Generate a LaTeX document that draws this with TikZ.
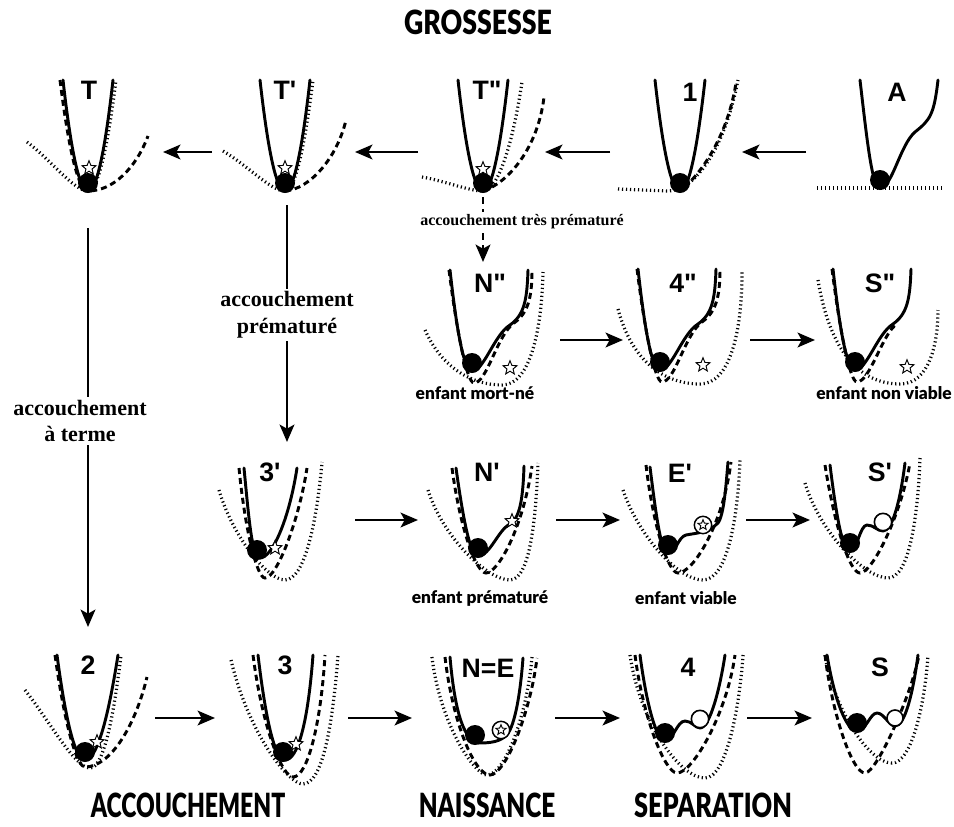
\documentclass[tikz,border=0pt]{standalone}
\usepackage{fontspec}
\usepackage{graphicx}
\setmainfont{Liberation Serif}
\setsansfont{Liberation Sans}
\newfontfamily\labfont{Liberation Sans}[Ligatures=TeXOff]
\newfontfamily\heavyfont{Lato Black}
\usetikzlibrary{shapes.geometric,arrows.meta}

\tikzset{
  wsolid/.style={line width=2.2pt, line join=round, line cap=round},
  wdash/.style={line width=2.2pt, dash pattern=on 4.5pt off 3pt},
  wdot/.style={line width=2.4pt, dash pattern=on 0.9pt off 2.1pt},
  arr/.style={line width=2pt, -{Stealth[length=13pt,width=11pt,inset=3pt]}},
  darr/.style={arr, dash pattern=on 5pt off 4pt},
  plabel/.style={font=\labfont\bfseries\fontsize{20}{20}\selectfont, inner sep=0pt},
  heading/.style={font=\heavyfont\fontsize{25}{25}\selectfont, inner sep=0pt},
  note/.style={font=\rmfamily\bfseries\fontsize{16.5}{20}\selectfont, align=center, fill=white, inner sep=2pt},
  smallnote/.style={font=\rmfamily\bfseries\fontsize{12}{12}\selectfont, fill=white, inner sep=2pt},
  child/.style={font=\heavyfont\fontsize{13}{13}\selectfont, inner sep=0pt},
  starmark/.style={star, star points=5, star point ratio=2.3, draw, fill=white,
                   line width=0.7pt, minimum size=11pt, inner sep=0pt},
  ringstar/.style={circle, draw, fill=white, line width=1.1pt, minimum size=13pt, inner sep=0pt},
  hole/.style={circle, draw, fill=white, line width=1.2pt, minimum size=13pt, inner sep=0pt},
}

\begin{document}
\begin{tikzpicture}[x=0.75pt, y=-0.75pt]
\useasboundingbox (0,0) rectangle (954,826);

% ---------------- headings ----------------
\node[heading] (hG) at (478,22) {\scalebox{0.8}[1]{GROSSESSE}};
\node[heading] (hA) at (188,805) {\scalebox{0.69}[1]{ACCOUCHEMENT}};
\node[heading] (hN) at (487,805) {\scalebox{0.73}[1]{NAISSANCE}};
\node[heading] (hS) at (713,805) {\scalebox{0.76}[1]{SEPARATION}};

% ================= row 1 : pregnancy =================
% T
\begin{scope}[shift={(88,183)}]
\draw[wdot] (-61,-41) .. controls (-38,-24) and (-14,8) .. (0,8) .. controls (9.3,8) and (18.7,-29) .. (28,-103);
\draw[wdash] (-28,-103) .. controls (-18.7,-29) and (-9.3,8) .. (0,8) .. controls (25,8) and (48,-15) .. (60,-47);
\draw[wsolid] (-25,-103) .. controls (-16.7,-29) and (-8.3,8) .. (0,8) .. controls (8.3,8) and (16.7,-29) .. (25,-103);
\fill (0,0) circle[radius=7.5pt];
\node[starmark] (sT) at (1,-15) {};
\end{scope}
% T'
\begin{scope}[shift={(285,183)}]
\draw[wdot] (-62,-32) .. controls (-38,-18) and (-14,8) .. (0,8) .. controls (9.3,8) and (18.7,-29) .. (28,-103);
\draw[wdash] (0,8) .. controls (25,6) and (52,-25) .. (61,-63);
\draw[wsolid] (-25,-103) .. controls (-16.7,-29) and (-8.3,8) .. (0,8) .. controls (8.3,8) and (16.7,-29) .. (25,-103);
\fill (0,0) circle[radius=7.5pt];
\node[starmark] (sTp) at (0,-15) {};
\end{scope}
% T''
\begin{scope}[shift={(483,183)}]
\draw[wdot] (-61,-6) .. controls (-38,-2) and (-14,8) .. (0,8) .. controls (15,8) and (30,-40) .. (39,-101);
\draw[wdash] (0,8) .. controls (25,0) and (55,-35) .. (61,-86);
\draw[wsolid] (-25,-103) .. controls (-16.7,-29) and (-8.3,8) .. (0,8) .. controls (8.3,8) and (16.7,-29) .. (25,-103);
\fill (0,0) circle[radius=7.5pt];
\node[starmark] (sTpp) at (0,-14) {};
\end{scope}
% 1
\begin{scope}[shift={(680,183)}]
\draw[wdot] (-62,6) -- (-12,8) .. controls (15,8) and (45,-35) .. (58,-103);
\draw[wdash] (5,4) .. controls (25,-15) and (48,-50) .. (56,-100);
\draw[wsolid] (-25,-103) .. controls (-16.7,-29) and (-8.3,8) .. (0,8) .. controls (8.3,8) and (16.7,-29) .. (25,-103);
\fill (0,0) circle[radius=7.5pt];
\end{scope}
% A
\begin{scope}[shift={(880,180)}]
\draw[wdot] (-63,8) -- (62,8);
\draw[wsolid] (-20,-100) .. controls (-13,-40) and (-8,8) .. (0,8) .. controls (12,8) and (20,-35) .. (35,-48) .. controls (50,-60) and (54,-65) .. (58,-100);
\fill (0,0) circle[radius=7.5pt];
\end{scope}

\node[plabel] (lT)   at (89,90)  {T};
\node[plabel] (lTp)  at (285,90) {T'};
\node[plabel] (lTpp) at (487,90) {T"};
\node[plabel] (l1)   at (690,92) {1};
\node[plabel] (lA)   at (897,92) {A};

% ================= row 2 : very premature birth =================
% N''
\begin{scope}[shift={(472,363)}]
\draw[wdot] (-47,-33) .. controls (-30,5) and (0,22) .. (30,22) .. controls (60,22) and (70,-40) .. (71,-91);
\draw[wdash] (-23,-93) .. controls (-15,-30) and (-5,20) .. (2,20) .. controls (15,20) and (25,-28) .. (42,-40) .. controls (56,-50) and (60,-65) .. (60,-93);
\draw[wsolid] (-22,-93) .. controls (-15,-30) and (-8,8) .. (0,8) .. controls (12,8) and (22,-28) .. (38,-38) .. controls (52,-48) and (55,-62) .. (56,-93);
\fill (0,0) circle[radius=7.5pt];
\node[starmark] (sNpp) at (38,5) {};
\end{scope}
% 4''
\begin{scope}[shift={(660,362)}]
\draw[wdot] (-42,-53) .. controls (-28,0) and (5,22) .. (40,22) .. controls (70,22) and (82,-30) .. (82,-90);
\draw[wdash] (-23,-93) .. controls (-15,-30) and (-5,20) .. (2,20) .. controls (15,20) and (25,-28) .. (42,-40) .. controls (56,-50) and (60,-65) .. (60,-93);
\draw[wsolid] (-22,-93) .. controls (-15,-30) and (-8,8) .. (0,8) .. controls (12,8) and (22,-28) .. (38,-38) .. controls (52,-48) and (55,-62) .. (56,-93);
\fill (0,0) circle[radius=7.5pt];
\node[starmark] (s4pp) at (43,3) {};
\end{scope}
% S''
\begin{scope}[shift={(855,362)}]
\draw[wdot] (-37,-82) .. controls (-25,-10) and (5,22) .. (45,22) .. controls (75,22) and (83,-20) .. (83,-52);
\draw[wdash] (-23,-93) .. controls (-15,-30) and (-5,20) .. (2,20) .. controls (15,20) and (28,-30) .. (42,-38);
\draw[wsolid] (-22,-93) .. controls (-15,-30) and (-8,8) .. (0,8) .. controls (12,8) and (22,-28) .. (38,-38) .. controls (52,-48) and (55,-62) .. (56,-93);
\fill (0,0) circle[radius=7.5pt];
\node[starmark] (sSpp) at (52,5) {};
\end{scope}

\node[plabel] (lNpp) at (490,283) {N"};
\node[plabel] (l4pp) at (683,283) {4"};
\node[plabel] (lSpp) at (880,283) {S"};
\node[child] (cMort) at (475,393) {enfant mort-né};
\node[child] (cNonv) at (884,393) {enfant non viable};

% ================= row 3 : premature birth =================
% 3'
\begin{scope}[shift={(257,550)}]
\draw[wdot] (-38,-60) .. controls (-25,-15) and (10,30) .. (28,30) .. controls (48,30) and (60,-30) .. (65,-88);
\draw[wdash] (-18,-82) .. controls (-12,-20) and (0,28) .. (8,28) .. controls (20,28) and (42,-30) .. (50,-82);
\draw[wsolid] (-13,-82) .. controls (-8,-30) and (-5,8) .. (3,8) .. controls (15,8) and (32,-30) .. (40,-82);
\fill (0,0) circle[radius=7.5pt];
\node[starmark] (s3p) at (18,-2) {};
\end{scope}
% N'
\begin{scope}[shift={(478,548)}]
\draw[wdot] (-50,-58) .. controls (-35,-10) and (10,32) .. (32,32) .. controls (52,32) and (58,-30) .. (60,-85);
\draw[wdash] (-26,-80) .. controls (-18,-20) and (-2,25) .. (8,25) .. controls (20,25) and (45,-20) .. (54,-82);
\draw[wsolid] (-22,-80) .. controls (-15,-30) and (-8,8) .. (0,8) .. controls (12,8) and (20,-18) .. (32,-24) .. controls (42,-30) and (45,-50) .. (46,-82);
\fill (0,0) circle[radius=7.5pt];
\node[starmark] (sNp) at (34,-27) {};
\end{scope}
% E'
\begin{scope}[shift={(668,545)}]
\draw[wdot] (-45,-55) .. controls (-30,-10) and (10,35) .. (35,35) .. controls (60,35) and (70,-30) .. (72,-85);
\draw[wdash] (-22,-80) .. controls (-15,-20) and (0,28) .. (10,28) .. controls (25,28) and (55,-20) .. (63,-83);
\draw[wsolid] (-18,-78) .. controls (-12,-30) and (-7,8) .. (0,8) .. controls (8,8) and (10,-8) .. (18,-10) .. controls (28,-12) and (40,-12) .. (50,-22) .. controls (56,-30) and (58,-60) .. (60,-83);
\fill (0,0) circle[radius=7.5pt];
\node[ringstar] (rEp) at (35,-20) {};
\node[starmark, minimum size=8pt] (sEp) at (35,-20) {};
\end{scope}
% S'
\begin{scope}[shift={(850,543)}]
\draw[wdot] (-45,-60) .. controls (-30,-10) and (15,35) .. (38,35) .. controls (60,35) and (68,-30) .. (70,-85);
\draw[wdash] (-25,-78) .. controls (-15,-15) and (0,30) .. (10,30) .. controls (22,30) and (50,-25) .. (60,-80);
\draw[wsolid] (-20,-78) .. controls (-14,-30) and (-8,8) .. (0,8) .. controls (7,8) and (10,-18) .. (17,-18) .. controls (24,-18) and (27,-12) .. (33,-12) .. controls (42,-12) and (50,-40) .. (55,-80);
\fill (0,0) circle[radius=7.5pt];
\node[hole] (oSp) at (33,-21) {};
\end{scope}

\node[plabel] (l3p) at (270,472) {3'};
\node[plabel] (lNp) at (487,472) {N'};
\node[plabel] (lEp) at (680,473) {E'};
\node[plabel] (lSp) at (880,472) {S'};
\node[child] (cPrem) at (480,598) {enfant prématuré};
\node[child] (cViab) at (686,598) {enfant viable};

% ================= row 4 : term birth =================
% 2
\begin{scope}[shift={(85,752)}]
\draw[wdot] (-60,-62) .. controls (-35,-30) and (-10,16) .. (5,16) .. controls (18,16) and (28,-30) .. (36,-97);
\draw[wdash] (-30,-97) .. controls (-20,-25) and (-8,15) .. (0,15) .. controls (25,15) and (50,-25) .. (62,-75);
\draw[wsolid] (-28,-97) .. controls (-18.7,-27) and (-9.3,8) .. (0,8) .. controls (11,8) and (22,-27) .. (33,-97);
\fill (0,0) circle[radius=7.5pt];
\node[starmark] (s2) at (12,-10) {};
\end{scope}
% 3
\begin{scope}[shift={(283,752)}]
\draw[wdot] (-52,-92) .. controls (-35,-20) and (5,32) .. (20,32) .. controls (40,32) and (50,-30) .. (55,-97);
\draw[wdash] (-30,-97) .. controls (-20,-20) and (0,25) .. (10,25) .. controls (25,25) and (38,-30) .. (42,-97);
\draw[wsolid] (-25,-97) .. controls (-17,-30) and (-8,8) .. (2,8) .. controls (15,8) and (25,-30) .. (30,-97);
\fill (0,0) circle[radius=7.5pt];
\node[starmark] (s3) at (13,-8) {};
\end{scope}
% N=E
\begin{scope}[shift={(475,735)}]
\draw[wdot] (-43,-78) .. controls (-35,-10) and (0,40) .. (12,40) .. controls (30,40) and (52,-20) .. (57,-78);
\draw[wdash] (-30,-78) .. controls (-22,-10) and (0,40) .. (15,40) .. controls (30,40) and (55,-20) .. (62,-77);
\draw[wsolid] (-25,-78) .. controls (-20,-20) and (-10,8) .. (5,8) .. controls (20,8) and (30,5) .. (35,-5) .. controls (42,-20) and (46,-50) .. (48,-77);
\fill (0,0) circle[radius=7.5pt];
\node[ringstar] (rNE) at (26,-5) {};
\node[starmark, minimum size=8pt] (sNE) at (26,-5) {};
\end{scope}
% 4
\begin{scope}[shift={(665,733)}]
\draw[wdot] (-35,-78) .. controls (-25,-10) and (15,45) .. (40,45) .. controls (62,45) and (75,-30) .. (78,-78);
\draw[wdash] (-30,-78) .. controls (-22,-15) and (0,40) .. (12,40) .. controls (28,40) and (62,-20) .. (70,-78);
\draw[wsolid] (-25,-78) .. controls (-18,-25) and (-8,8) .. (0,8) .. controls (8,8) and (12,-12) .. (20,-12) .. controls (27,-12) and (30,-5) .. (35,-5) .. controls (45,-5) and (55,-45) .. (60,-78);
\fill (0,0) circle[radius=7.5pt];
\node[hole] (o4) at (35,-14) {};
\end{scope}
% S
\begin{scope}[shift={(857,723)}]
\draw[wdot] (-32,-68) .. controls (-25,-20) and (10,40) .. (35,40) .. controls (55,40) and (68,-20) .. (71,-68);
\draw[wdash] (-32,-68) .. controls (-25,-10) and (-5,50) .. (8,50) .. controls (20,50) and (55,-30) .. (62,-68);
\draw[wsolid] (-30,-68) .. controls (-22,-20) and (-10,8) .. (0,8) .. controls (9,8) and (13,-10) .. (20,-10) .. controls (27,-10) and (32,3) .. (38,3) .. controls (48,3) and (56,-30) .. (61,-68);
\fill (0,0) circle[radius=7.5pt];
\node[hole, minimum size=12pt] (oS) at (38,-5) {};
\end{scope}

\node[plabel] (l2)  at (88,665)  {2};
\node[plabel] (l3)  at (285,665) {3};
\node[plabel] (lNE) at (488,668) {N=E};
\node[plabel] (l4)  at (688,667) {4};
\node[plabel] (lS)  at (880,667) {S};

% ================= connectors =================
% row 1, towards the left
\coordinate (r1a) at (212,152); \coordinate (r1b) at (163,152);
\coordinate (r1c) at (418,152); \coordinate (r1d) at (355,152);
\coordinate (r1e) at (610,152); \coordinate (r1f) at (545,152);
\coordinate (r1g) at (806,152); \coordinate (r1h) at (742,152);
\draw[arr] (r1a) -- (r1b);
\draw[arr] (r1c) -- (r1d);
\draw[arr] (r1e) -- (r1f);
\draw[arr] (r1g) -- (r1h);

% term birth
\coordinate (vTtop) at (88,228); \coordinate (vTbot) at (88,627);
\node[note] (nTerm) at (80,421) {accouchement\\à terme};
\draw[line width=2pt] (vTtop) -- (vTtop |- nTerm.north);
\draw[arr] (vTtop |- nTerm.south) -- (vTbot);

% premature birth
\coordinate (vPtop) at (287,205); \coordinate (vPbot) at (287,442);
\node[note] (nPrem) at (287,315) {accouchement\\prématuré};
\draw[line width=2pt] (vPtop) -- (nPrem.north);
\draw[arr] (nPrem.south) -- (vPbot);

% very premature birth
\coordinate (vVtop) at (483,197); \coordinate (vVbot) at (483,262);
\draw[darr] (vVtop) -- (vVbot);
\node[smallnote] (nVery) at (522,222) {accouchement très prématuré};

% row 2
\coordinate (r2a) at (560,340); \coordinate (r2b) at (623,340);
\coordinate (r2c) at (750,340); \coordinate (r2d) at (815,340);
\draw[arr] (r2a) -- (r2b);
\draw[arr] (r2c) -- (r2d);

% row 3
\coordinate (r3a) at (355,520); \coordinate (r3b) at (418,520);
\coordinate (r3c) at (556,520); \coordinate (r3d) at (620,520);
\coordinate (r3e) at (746,520); \coordinate (r3f) at (810,520);
\draw[arr] (r3a) -- (r3b);
\draw[arr] (r3c) -- (r3d);
\draw[arr] (r3e) -- (r3f);

% row 4
\coordinate (r4a) at (155,718); \coordinate (r4b) at (215,718);
\coordinate (r4c) at (348,718); \coordinate (r4d) at (412,718);
\coordinate (r4e) at (555,718); \coordinate (r4f) at (620,718);
\coordinate (r4g) at (747,718); \coordinate (r4h) at (812,718);
\draw[arr] (r4a) -- (r4b);
\draw[arr] (r4c) -- (r4d);
\draw[arr] (r4e) -- (r4f);
\draw[arr] (r4g) -- (r4h);
\end{tikzpicture}
\end{document}
